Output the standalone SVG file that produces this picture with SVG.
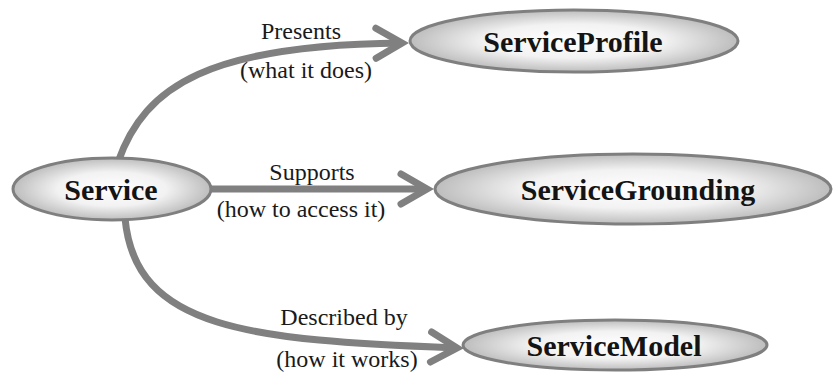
<svg xmlns="http://www.w3.org/2000/svg" width="835" height="378" viewBox="0 0 835 378">
<style>
.node ellipse{fill:url(#g);stroke:#7f7f7f;stroke-width:3}
.node text{font-family:"Liberation Serif","Times New Roman",serif;font-weight:bold;font-size:30px;fill:#141414;text-anchor:middle}
.conn path{fill:none;stroke:#808080;stroke-width:7;marker-end:url(#arr)}
.lbl{font-family:"Liberation Serif","Times New Roman",serif;font-size:24px;fill:#1a1a1a;text-anchor:middle}
</style>
<defs>
<radialGradient id="g" cx="0.5" cy="0.5" r="0.5">
<stop offset="0" stop-color="#ffffff"/>
<stop offset="0.55" stop-color="#f2f2f2"/>
<stop offset="1" stop-color="#bdbdbd"/>
</radialGradient>
<marker id="arr" markerUnits="userSpaceOnUse" markerWidth="10" markerHeight="10" refX="0" refY="0" orient="auto" overflow="visible">
<path d="M-26,-15 L0,0 L-26,15" fill="none" stroke="#808080" stroke-width="7" stroke-linecap="round" stroke-linejoin="miter"/>
</marker>
</defs>
<rect width="835" height="378" fill="#ffffff"/>
<g id="connectors" class="conn">
<path d="M118,162 C145,85 210,45 402,43"/>
<path d="M210,189 L427,189"/>
<path d="M125,218 C135,330 250,340 457,348"/>
</g>
<g id="labels">
<text class="lbl" x="301" y="39">Presents</text>
<text class="lbl" x="306" y="78">(what it does)</text>
<text class="lbl" x="312" y="180">Supports</text>
<text class="lbl" x="301" y="217">(how to access it)</text>
<text class="lbl" x="344" y="325">Described by</text>
<text class="lbl" x="347" y="367">(how it works)</text>
</g>
<g id="Service" class="node">
<ellipse cx="112" cy="189" rx="99" ry="31"/>
<text x="111" y="200">Service</text>
</g>
<g id="ServiceProfile" class="node">
<ellipse cx="574" cy="41" rx="164" ry="31"/>
<text x="573" y="52">ServiceProfile</text>
</g>
<g id="ServiceGrounding" class="node">
<ellipse cx="633" cy="189" rx="198" ry="35"/>
<text x="638" y="200">ServiceGrounding</text>
</g>
<g id="ServiceModel" class="node">
<ellipse cx="615" cy="345" rx="152" ry="25"/>
<text x="614" y="356">ServiceModel</text>
</g>
</svg>
